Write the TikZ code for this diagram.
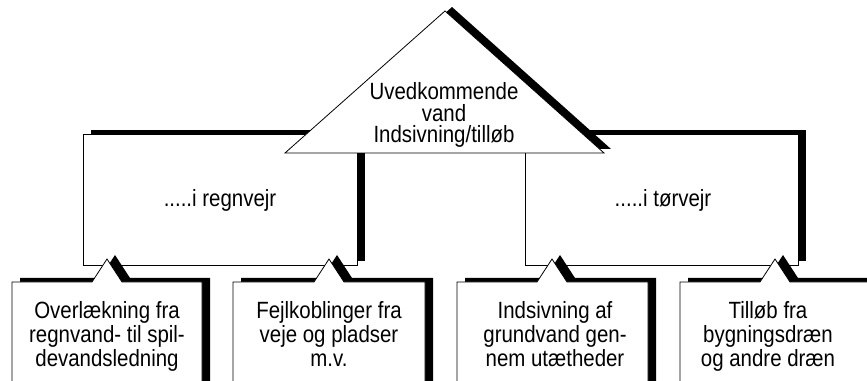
\documentclass[tikz,border=0pt]{standalone}
\usepackage{fontspec}
\setmainfont{Liberation Sans}[FakeStretch=0.87]
\usetikzlibrary{positioning}

\begin{document}
\begin{tikzpicture}[x=1pt, y=1pt,
    shadow/.style={fill=black},
    paper/.style={draw=black, fill=white, line width=0.8pt},
    txt/.style={font=\fontsize{23.5}{24}\selectfont, align=center, inner sep=0pt, anchor=base},
    tritxt/.style={txt, font=\fontsize{23.5}{21.5}\selectfont}]
\useasboundingbox (0,0) rectangle (867,380);
\clip (0,0) rectangle (867,380);

% Middle boxes with shadow
\fill[shadow] (91,119) rectangle (365,250);
\filldraw[paper] (83,115) rectangle (357,246);
\fill[shadow] (533,119) rectangle (806,250);
\filldraw[paper] (525,115) rectangle (798,246);

% Top triangle
\fill[shadow] (452,373) -- (611,231) -- (292,231) -- cycle;
\filldraw[paper] (445,369) -- (604,227) -- (285,227) -- cycle;

% Bottom boxes with pointers
\fill[shadow, xshift=8pt, yshift=4pt] (12,-10) -- (12,98) -- (92,98) -- (107,121) -- (122,98) -- (202,98) -- (202,-10) -- cycle;
\filldraw[paper] (12,-10) -- (12,98) -- (92,98) -- (107,121) -- (122,98) -- (202,98) -- (202,-10) -- cycle;

\fill[shadow, xshift=8pt, yshift=4pt] (233,-10) -- (233,98) -- (314,98) -- (329,121) -- (344,98) -- (425,98) -- (425,-10) -- cycle;
\filldraw[paper] (233,-10) -- (233,98) -- (314,98) -- (329,121) -- (344,98) -- (425,98) -- (425,-10) -- cycle;

\fill[shadow, xshift=8pt, yshift=4pt] (457,-10) -- (457,98) -- (537,98) -- (552,121) -- (567,98) -- (648,98) -- (648,-10) -- cycle;
\filldraw[paper] (457,-10) -- (457,98) -- (537,98) -- (552,121) -- (567,98) -- (648,98) -- (648,-10) -- cycle;

\fill[shadow, xshift=8pt, yshift=4pt] (680,-10) -- (680,98) -- (760,98) -- (775,121) -- (790,98) -- (872,98) -- (872,-10) -- cycle;
\filldraw[paper] (680,-10) -- (680,98) -- (760,98) -- (775,121) -- (790,98) -- (872,98) -- (872,-10) -- cycle;

% Texts
\node[tritxt] (uved) at (444,237) {Uvedkommende\\vand\\Indsivning/tilløb};
\node[txt] (regn) at (220,173) {.....i regnvejr};
\node[txt] (toer) at (663,173) {.....i tørvejr};
\node[txt] (overl) at (107,14) {Overlækning fra\\regnvand- til spil-\\devandsledning};
\node[txt] (fejl) at (329,14) {Fejlkoblinger fra\\veje og pladser\\m.v.};
\node[txt] (indsiv) at (555,14) {Indsivning af\\grundvand gen-\\nem utætheder};
\node[txt] (tilloeb) at (768,14) {Tilløb fra\\bygningsdræn\\og andre dræn};
\end{tikzpicture}
\end{document}
